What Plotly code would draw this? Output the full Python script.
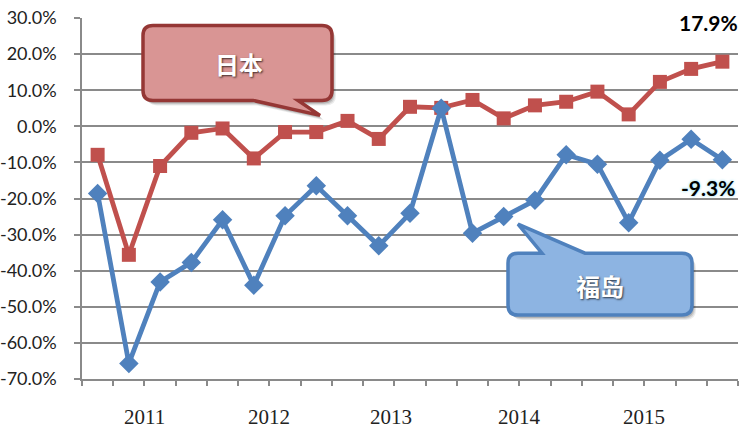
import plotly.graph_objects as go

# ---- data (percent) ----
quarters = ["2010Q4", "2011Q1", "2011Q2", "2011Q3", "2011Q4", "2012Q1", "2012Q2",
            "2012Q3", "2012Q4", "2013Q1", "2013Q2", "2013Q3", "2013Q4", "2014Q1",
            "2014Q2", "2014Q3", "2014Q4", "2015Q1", "2015Q2", "2015Q3", "2015Q4"]
japan = [-7.9, -35.6, -11.0, -1.8, -0.6, -8.9, -1.6, -1.6, 1.5, -3.5, 5.4,
         5.1, 7.3, 2.2, 5.8, 6.8, 9.6, 3.3, 12.3, 15.9, 17.9]
fukushima = [-18.6, -65.7, -43.1, -37.7, -25.9, -44.0, -24.8, -16.5, -24.8, -33.1, -24.1,
             5.0, -29.6, -25.0, -20.5, -7.9, -10.5, -26.7, -9.4, -3.6, -9.3]
year_labels = ["2011", "2012", "2013", "2014", "2015"]
year_pos = [1.5, 5.5, 9.4, 13.5, 17.5]
y_ticks = [-70, -60, -50, -40, -30, -20, -10, 0, 10, 20, 30]

RED = "#C0504D"
BLUE = "#4F81BD"
GRID = "#8A8A8A"

W, H = 743, 428
# plot area in screen pixels
SL, SR, ST, SB = 82, 738, 17.5, 379

xs = list(range(len(quarters)))

fig = go.Figure()
fig.add_trace(go.Scatter(
    x=xs, y=japan, mode="lines+markers", name="日本",
    line=dict(color=RED, width=4.8),
    marker=dict(symbol="square", size=14, color=RED),
))
fig.add_trace(go.Scatter(
    x=xs, y=fukushima, mode="lines+markers", name="福岛",
    line=dict(color=BLUE, width=4.8),
    marker=dict(symbol="diamond", size=15, color=BLUE),
))


def px(x, y):
    # screen pixel -> paper coords
    return ((x - SL) / (SR - SL), (SB - y) / (SB - ST))


def path_from(points):
    parts = []
    for cmd, pts in points:
        coords = " ".join("%.5f,%.5f" % px(x, y) for x, y in pts)
        parts.append(cmd + " " + coords)
    return " ".join(parts) + " Z"


def callout_path(L, R, T, B, r, tail, side, dx=0, dy=0):
    L, R, T, B = L + dx, R + dx, T + dy, B + dy
    (a, b, (tx, ty)) = tail
    a += dx
    b += dx
    tx += dx
    ty += dy
    seq = [("M", [(L + r, T)])]
    if side == "top":
        seq += [("L", [(a, T)]), ("L", [(tx, ty)]), ("L", [(b, T)])]
    seq += [("L", [(R - r, T)]), ("Q", [(R, T), (R, T + r)]),
            ("L", [(R, B - r)]), ("Q", [(R, B), (R - r, B)])]
    if side == "bottom":
        seq += [("L", [(b, B)]), ("L", [(tx, ty)]), ("L", [(a, B)])]
    seq += [("L", [(L + r, B)]), ("Q", [(L, B), (L, B - r)]),
            ("L", [(L, T + r)]), ("Q", [(L, T), (L + r, T)])]
    return path_from(seq)


shapes = []
callouts = [
    dict(box=(143, 332, 25, 100), tail=(253, 298, (320, 115)), side="bottom",
         fill="#D99594", line="#953735", text="日本", center=(239, 63)),
    dict(box=(508, 692, 253, 315), tail=(542, 585, (518, 224)), side="top",
         fill="#8DB4E2", line="#4F81BD", text="福岛", center=(600, 285)),
]
annotations = []
for c in callouts:
    L, R, T, B = c["box"]
    for k, op in [(5, 0.08), (4, 0.10), (3, 0.14)]:
        shapes.append(dict(type="path", xref="paper", yref="paper",
                           path=callout_path(L, R, T, B, 10, c["tail"], c["side"], dx=k - 1, dy=k),
                           fillcolor="rgba(0,0,0,%.2f)" % op, line=dict(width=0), layer="above"))
    shapes.append(dict(type="path", xref="paper", yref="paper",
                       path=callout_path(L, R, T, B, 10, c["tail"], c["side"]),
                       fillcolor=c["fill"], line=dict(color=c["line"], width=3.5), layer="above"))
    cx, cy = px(*c["center"])
    annotations.append(dict(x=cx, y=cy, xref="paper", yref="paper", text="<b>%s</b>" % c["text"],
                            showarrow=False, xanchor="center", yanchor="middle",
                            font=dict(family="Noto Sans CJK SC", size=24, color="white",
                                      shadow="1px 1px 2px rgba(0,0,0,0.7)")))

# end-value labels
annotations.append(dict(x=xs[-1], y=japan[-1], xref="x", yref="y",
                        text="<b>%.1f%%</b>" % japan[-1], showarrow=False,
                        xshift=-14, yshift=39, xanchor="center", yanchor="middle",
                        font=dict(family="Lato", size=21, color="black")))
annotations.append(dict(x=xs[-1], y=fukushima[-1], xref="x", yref="y",
                        text="<b>%.1f%%</b>" % fukushima[-1], showarrow=False,
                        xshift=-14, yshift=-28, xanchor="center", yanchor="middle",
                        font=dict(family="Lato", size=21, color="black",
                                  shadow="0px 0px 3px #7FD6EE")))

# year labels
for lab, pos in zip(year_labels, year_pos):
    annotations.append(dict(x=pos, y=px(0, 417)[1], xref="x", yref="paper",
                            text=lab, showarrow=False, xanchor="center", yanchor="middle",
                            font=dict(family="Liberation Serif", size=21, color="#222222")))

fig.update_layout(
    width=W, height=H,
    margin=dict(l=SL, r=W - SR, t=ST, b=H - SB, pad=0, autoexpand=False),
    paper_bgcolor="white", plot_bgcolor="white",
    showlegend=False,
    hovermode=False,
    shapes=shapes,
    annotations=annotations,
    xaxis=dict(range=[-0.5, len(quarters) - 0.5], showgrid=False, zeroline=False,
               automargin=False,
               tickmode="array", tickvals=[i - 0.5 for i in range(len(quarters) + 1)],
               showticklabels=False, ticks="outside", ticklen=5, tickwidth=1.5,
               tickcolor=GRID, showline=True, linecolor=GRID, linewidth=1.5),
    yaxis=dict(range=[-70, 30], tickmode="array", tickvals=y_ticks,
               ticktext=["%.1f%%" % v for v in y_ticks],
               automargin=False, ticklabeloverflow="allow",
               showgrid=True, gridcolor=GRID, gridwidth=1.5, zeroline=False,
               ticks="outside", ticklen=6, tickwidth=1.5, tickcolor=GRID,
               showline=True, linecolor=GRID, linewidth=1.5,
               ticklabelstandoff=14,
               tickfont=dict(family="Lato", size=18, color="#222222")),
)

fig.write_html("out.html", config={"displayModeBar": False},
               post_script="document.body.style.margin='0px';document.body.style.overflow='hidden';")
